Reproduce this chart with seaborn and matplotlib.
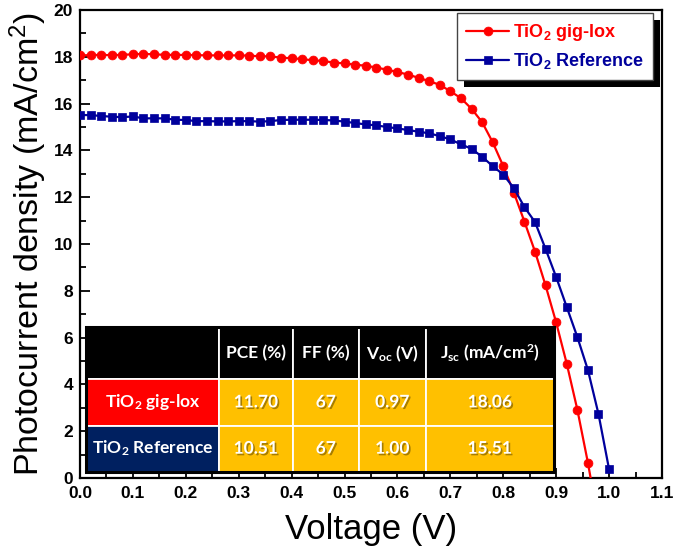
import numpy as np
import pandas as pd
import seaborn as sns
import matplotlib
matplotlib.use("Agg")
import matplotlib.pyplot as plt
import matplotlib.patheffects as pe
from matplotlib.patches import Rectangle
from matplotlib.ticker import MultipleLocator
from matplotlib.transforms import IdentityTransform

# voltage sweep (V), 0.02 V steps
voltage = [0.00, 0.02, 0.04, 0.06, 0.08, 0.10, 0.12, 0.14, 0.16, 0.18,
           0.20, 0.22, 0.24, 0.26, 0.28, 0.30, 0.32, 0.34, 0.36, 0.38,
           0.40, 0.42, 0.44, 0.46, 0.48, 0.50, 0.52, 0.54, 0.56, 0.58,
           0.60, 0.62, 0.64, 0.66, 0.68, 0.70, 0.72, 0.74, 0.76, 0.78,
           0.80, 0.82, 0.84, 0.86, 0.88, 0.90, 0.92, 0.94, 0.96, 0.98,
           1.00]

# photocurrent density (mA/cm2)
j_giglox = [18.06, 18.07, 18.08, 18.07, 18.08, 18.11, 18.12, 18.11, 18.08, 18.08,
            18.08, 18.07, 18.06, 18.06, 18.06, 18.06, 18.05, 18.02, 18.02, 17.96,
            17.94, 17.90, 17.85, 17.82, 17.75, 17.72, 17.66, 17.62, 17.54, 17.45,
            17.35, 17.24, 17.10, 16.96, 16.80, 16.53, 16.23, 15.78, 15.21, 14.35,
            13.33, 12.20, 10.96, 9.68, 8.23, 6.65, 4.89, 2.93, 0.66, -1.90]
j_reference = [15.51, 15.51, 15.47, 15.44, 15.42, 15.45, 15.37, 15.37, 15.37, 15.31,
               15.30, 15.25, 15.25, 15.24, 15.24, 15.25, 15.25, 15.23, 15.25, 15.30,
               15.31, 15.31, 15.31, 15.30, 15.28, 15.23, 15.17, 15.11, 15.07, 15.00,
               14.94, 14.87, 14.80, 14.73, 14.61, 14.47, 14.26, 14.07, 13.73, 13.33,
               12.97, 12.39, 11.58, 10.94, 9.79, 8.59, 7.31, 6.03, 4.62, 2.74,
               0.38]

series_labels = [r"TiO$_\mathbf{2}$ gig-lox", r"TiO$_\mathbf{2}$ Reference"]
series_colors = ["#ff0000", "#00009c"]
series_markers = ["o", "s"]

# inset table
table_rows = [r"TiO$_\mathsf{2}$ gig-lox", r"TiO$_\mathsf{2}$ Reference"]
table_cols = ["PCE (%)", "FF (%)", r"V$_\mathsf{oc}$ (V)", r"J$_\mathsf{sc}$ (mA/cm$^\mathsf{2}$)"]
pce = [11.70, 10.51]
ff = [67, 67]
voc = [0.97, 1.00]
jsc = [18.06, 15.51]

sns.set_theme(style="ticks")
plt.rcParams.update({
    "font.family": ["Liberation Sans", "DejaVu Sans"],
    "mathtext.fontset": "custom",
    "mathtext.rm": "Liberation Sans",
    "mathtext.it": "Liberation Sans:italic",
    "mathtext.bf": "Liberation Sans:bold",
    "mathtext.sf": "Lato:bold",
})

df = pd.concat([
    pd.DataFrame({"V": voltage[:len(j_giglox)], "J": j_giglox, "sample": series_labels[0]}),
    pd.DataFrame({"V": voltage[:len(j_reference)], "J": j_reference, "sample": series_labels[1]}),
])

fig = plt.figure(figsize=(6.75, 5.54), dpi=100)
ax = fig.add_axes([0.1185, 0.137, 0.8622, 0.845])

for lab, col, mk, ms in zip(series_labels, series_colors, series_markers, [6.4, 5.8]):
    sub = df[df["sample"] == lab]
    sns.lineplot(data=sub, x="V", y="J", ax=ax, color=col, marker=mk, markersize=ms,
                 markeredgecolor=col, markeredgewidth=0.5, linewidth=1.6,
                 sort=False, label=lab, zorder=3)

ax.set_xlim(0, 1.1)
ax.set_ylim(0, 20)
ax.set_xticks(np.round(np.arange(0, 1.11, 0.1), 1),
              labels=[f"{t:.1f}" for t in np.arange(0, 1.11, 0.1)], fontweight="bold")
ax.set_yticks(np.arange(0, 21, 2), labels=[str(t) for t in range(0, 21, 2)], fontweight="bold")
ax.xaxis.set_minor_locator(MultipleLocator(0.05))
ax.yaxis.set_minor_locator(MultipleLocator(1))
ax.tick_params(which="both", direction="in", top=False, right=False, width=1.3,
               colors="black", labelsize=12.5)
ax.tick_params(which="major", length=7)
ax.tick_params(which="minor", length=4)
ax.tick_params(axis="x", pad=6)
ax.tick_params(axis="y", pad=5)
for s in ax.spines.values():
    s.set_color("black")
    s.set_linewidth(1.6)

ax.set_xlabel("Voltage (V)", fontsize=25, labelpad=8, color="black")
ax.set_ylabel("Photocurrent density (mA/cm$^2$)", fontsize=24.5, labelpad=3, color="black")

leg = ax.legend(loc="upper right", bbox_to_anchor=(0.9845, 0.9936), borderaxespad=0,
                frameon=True, fancybox=False, edgecolor="#444444", framealpha=1,
                prop={"weight": "bold", "size": 13}, handlelength=2.4,
                handletextpad=0.2, borderpad=0.5, labelspacing=0.45)
leg.get_frame().set_linewidth(1.0)
leg.set_zorder(6)
for txt, col in zip(leg.get_texts(), series_colors):
    txt.set_color(col)

# table
cell_text = [[""] + table_cols,
             [table_rows[0], f"{pce[0]:.2f}", f"{ff[0]}", f"{voc[0]:.2f}", f"{jsc[0]:.2f}"],
             [table_rows[1], f"{pce[1]:.2f}", f"{ff[1]}", f"{voc[1]:.2f}", f"{jsc[1]:.2f}"]]
tb_box = [0.0103, 0.0135, 0.804, 0.3085]
tbl = ax.table(cellText=cell_text, cellLoc="center", bbox=tb_box,
               colWidths=[0.284, 0.158, 0.141, 0.143, 0.274])
tbl.auto_set_font_size(False)
tbl.set_zorder(4)
row_colors = ["#ff0000", "#002060"]
for (r, c), cell in tbl.get_celld().items():
    cell.set_edgecolor("white")
    cell.set_linewidth(1.3)
    cell.set_height(0.51 if r == 0 else 0.455)
    t = cell.get_text()
    t.set_color("white")
    t.set_fontsize(12.5)
    t.set_fontfamily(["Lato", "DejaVu Sans"])
    t.set_fontweight("bold")
    if r == 0:
        cell.set_facecolor("black")
    elif c == 0:
        cell.set_facecolor(row_colors[r - 1])
    else:
        cell.set_facecolor("#ffc000")
        t.set_path_effects([pe.withSimplePatchShadow(offset=(1.2, -1.2),
                                                     shadow_rgbFace="#6b5000", alpha=0.6)])
ax.add_patch(Rectangle((tb_box[0], tb_box[1]), tb_box[2], tb_box[3], transform=ax.transAxes,
                       fill=False, edgecolor="black", linewidth=2.2, zorder=5))

# black drop shadow behind the legend frame
fig.canvas.draw()
bb = leg.get_frame().get_window_extent()
ax.add_patch(Rectangle((bb.x0 + 7, bb.y0 - 7), bb.width, bb.height, transform=IdentityTransform(),
                       facecolor="black", edgecolor="none", zorder=5.9))

fig.savefig("out.png", dpi=100, facecolor="white")
